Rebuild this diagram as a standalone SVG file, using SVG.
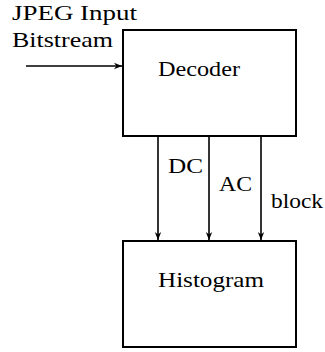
<svg xmlns="http://www.w3.org/2000/svg" width="325" height="352" viewBox="0 0 325 352">
<style>
.box{fill:#fff;stroke:#000;stroke-width:2}
.ln{stroke:#000;stroke-width:1.6;fill:none}
text{font-family:"Liberation Serif","Times New Roman",serif;font-size:21px;fill:#000}
</style>
<defs>
<marker id="ah" viewBox="0 0 10 10" refX="10" refY="5" markerWidth="8" markerHeight="8" markerUnits="userSpaceOnUse" orient="auto">
<path d="M0,1 L10,5 L0,9 L3,5 Z" fill="#000"/>
</marker>
</defs>
<rect width="325" height="352" fill="#fff"/>
<g id="input-label">
<text x="12" y="20" textLength="125" lengthAdjust="spacingAndGlyphs">JPEG Input</text>
<text x="12" y="47" textLength="101" lengthAdjust="spacingAndGlyphs">Bitstream</text>
</g>
<g id="decoder">
<rect class="box" x="123" y="30" width="173" height="106"/>
<text x="158" y="76" font-size="22" textLength="82" lengthAdjust="spacingAndGlyphs">Decoder</text>
</g>
<g id="histogram">
<rect class="box" x="123" y="241" width="173" height="106"/>
<text x="158" y="287" font-size="22" textLength="106" lengthAdjust="spacingAndGlyphs">Histogram</text>
</g>
<g id="connectors">
<line class="ln" x1="26" y1="66" x2="122" y2="66" marker-end="url(#ah)"/>
<line class="ln" x1="158" y1="136" x2="158" y2="240" marker-end="url(#ah)"/>
<line class="ln" x1="209" y1="136" x2="209" y2="240" marker-end="url(#ah)"/>
<line class="ln" x1="261" y1="136" x2="261" y2="240" marker-end="url(#ah)"/>
<text x="168" y="173" textLength="35" lengthAdjust="spacingAndGlyphs">DC</text>
<text x="219" y="191" textLength="33" lengthAdjust="spacingAndGlyphs">AC</text>
<text x="271" y="208" textLength="52" lengthAdjust="spacingAndGlyphs">block</text>
</g>
</svg>
